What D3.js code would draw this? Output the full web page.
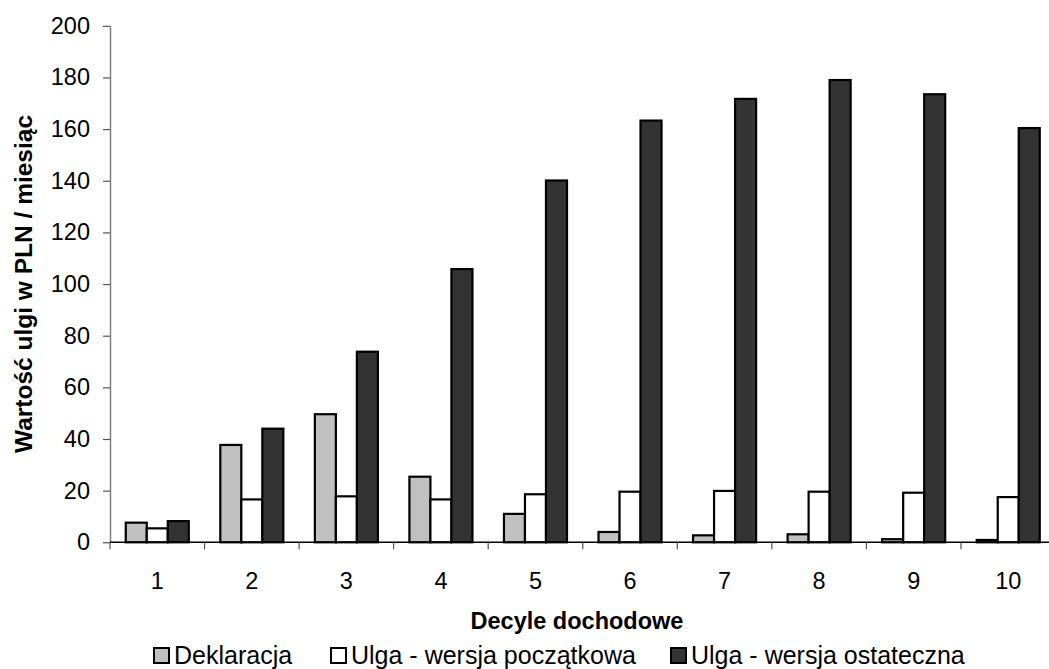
<!DOCTYPE html>
<html>
<head>
<meta charset="utf-8">
<script src="https://cdn.jsdelivr.net/npm/d3@7"></script>
<style>
  html, body { margin: 0; padding: 0; background: #fff; }
  svg { display: block; font-family: "Liberation Sans", Arial, Helvetica, sans-serif; }
</style>
</head>
<body>
<svg id="chart" width="1049" height="669"></svg>
<script>
// Decile groups on the x axis
const deciles = ["1", "2", "3", "4", "5", "6", "7", "8", "9", "10"];

// Series names (legend order)
const seriesNames = ["Deklaracja", "Ulga - wersja początkowa", "Ulga - wersja ostateczna"];

// Monthly relief value in PLN, per decile
const deklaracja = [7.6, 37.7, 49.6, 25.4, 11.0, 4.0, 2.7, 3.1, 1.2, 0.9];
const ulgaPoczatkowa = [5.4, 16.6, 17.8, 16.6, 18.6, 19.6, 19.9, 19.6, 19.2, 17.5];
const ulgaOstateczna = [8.2, 44.0, 73.8, 105.8, 140.1, 163.3, 171.7, 179.0, 173.5, 160.4];

// Y axis ticks
const yTicks = [0, 20, 40, 60, 80, 100, 120, 140, 160, 180, 200];

const seriesValues = [deklaracja, ulgaPoczatkowa, ulgaOstateczna];
const fills = ["#c0c0c0", "#ffffff", "#333333"];

const svg = d3.select("#chart");

const plotLeft = 110, plotRight = 1055.5, plotTop = 25.8, plotBottom = 542.3;

const y = d3.scaleLinear().domain([0, 200]).range([plotBottom, plotTop]);

const x0 = d3.scaleBand()
  .domain(deciles)
  .range([plotLeft, plotRight])
  .paddingInner(1 / 3)
  .paddingOuter(1 / 6);

const x1 = d3.scaleBand()
  .domain(seriesNames)
  .range([0, x0.bandwidth()]);

const color = d3.scaleOrdinal().domain(seriesNames).range(fills);

// Y axis
const yAxis = svg.append("g")
  .attr("transform", `translate(${plotLeft},0)`)
  .call(d3.axisLeft(y).tickValues(yTicks).tickSize(7).tickPadding(13).tickSizeOuter(0));
yAxis.select(".domain").attr("stroke", "#808080").attr("stroke-width", 1.5);
yAxis.selectAll(".tick line").attr("stroke", "#555").attr("stroke-width", 1.2);
yAxis.selectAll(".tick text")
  .attr("font-size", 23.5)
  .attr("fill", "#000")
  .style("font-family", "'Liberation Sans', Arial, sans-serif");

// Bars
const rows = deciles.map((d, i) => ({
  decile: d,
  values: seriesNames.map((s, k) => ({ key: s, value: seriesValues[k][i] }))
}));

const groups = svg.append("g")
  .selectAll("g")
  .data(rows)
  .join("g")
  .attr("transform", d => `translate(${x0(d.decile)},0)`);

groups.selectAll("rect")
  .data(d => d.values)
  .join("rect")
  .attr("x", d => x1(d.key))
  .attr("width", x1.bandwidth())
  .attr("y", d => y(d.value))
  .attr("height", d => y(0) - y(d.value))
  .attr("fill", d => color(d.key))
  .attr("stroke", "#000")
  .attr("stroke-width", 2.2);

// X axis baseline with ticks at the group boundaries
const gap = (x0.step() - x0.bandwidth()) / 2;
const boundaries = deciles.map(d => x0(d) - gap).concat([x0(deciles[deciles.length - 1]) + x0.bandwidth() + gap]);

const xAxis = svg.append("g");
xAxis.append("line")
  .attr("x1", plotLeft).attr("x2", plotRight)
  .attr("y1", y(0)).attr("y2", y(0))
  .attr("stroke", "#000").attr("stroke-width", 1.5);
xAxis.selectAll("line.tick")
  .data(boundaries)
  .join("line")
  .attr("class", "tick")
  .attr("x1", d => d).attr("x2", d => d)
  .attr("y1", y(0)).attr("y2", y(0) + 7)
  .attr("stroke", "#555").attr("stroke-width", 1.2);
xAxis.selectAll("text")
  .data(deciles)
  .join("text")
  .attr("x", d => x0(d) + x0.bandwidth() / 2)
  .attr("y", 589)
  .attr("text-anchor", "middle")
  .attr("font-size", 23.5)
  .text(d => d);

// Axis titles
svg.append("text")
  .attr("transform", "translate(32,284) rotate(-90)")
  .attr("text-anchor", "middle")
  .attr("font-size", 24.5)
  .attr("font-weight", "bold")
  .text("Wartość ulgi w PLN / miesiąc");

svg.append("text")
  .attr("x", 577)
  .attr("y", 629)
  .attr("text-anchor", "middle")
  .attr("font-size", 23.5)
  .attr("font-weight", "bold")
  .text("Decyle dochodowe");

// Legend
const legendX = [153, 330, 670];
const legend = svg.append("g")
  .selectAll("g")
  .data(seriesNames)
  .join("g")
  .attr("transform", (d, i) => `translate(${legendX[i]},0)`);

legend.append("rect")
  .attr("x", 1).attr("y", 648)
  .attr("width", 15).attr("height", 15)
  .attr("fill", d => color(d))
  .attr("stroke", "#000").attr("stroke-width", 2);

legend.append("text")
  .attr("x", 21)
  .attr("y", 664)
  .attr("font-size", 25)
  .text(d => d);
</script>
</body>
</html>
